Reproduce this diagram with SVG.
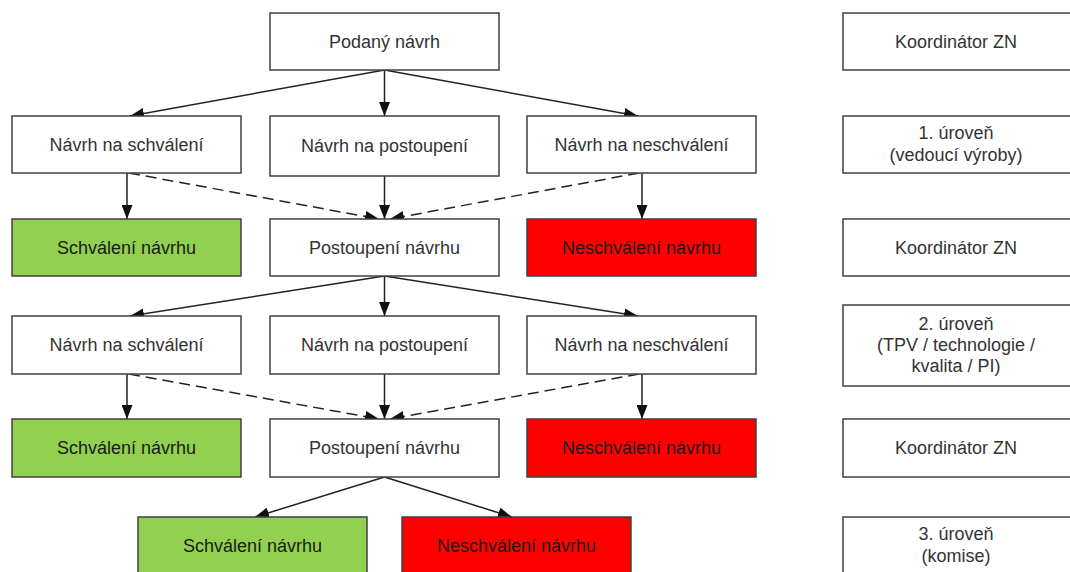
<svg xmlns="http://www.w3.org/2000/svg" width="1070" height="572" viewBox="0 0 1070 572">
<style>
.box{fill:#ffffff;stroke:#404040;stroke-width:1.5}
.ok{fill:#92d050;stroke:#404040;stroke-width:1.5}
.no{fill:#ff0000;stroke:#404040;stroke-width:1.5}
text{font-family:"Liberation Sans",Arial,sans-serif;font-size:18px;fill:#333333;text-anchor:middle}
.dk{fill:#1a1a1a}
.ln{stroke:#222222;stroke-width:1.5;fill:none}
.ds{stroke:#222222;stroke-width:1.5;fill:none;stroke-dasharray:11 6}
</style>
<defs>
<marker id="ah" markerUnits="userSpaceOnUse" markerWidth="14" markerHeight="11" refX="14" refY="5.5" orient="auto">
<path d="M0,0 L14,5.5 L0,11 z" fill="#111111"/>
</marker>
</defs>
<g id="connectors">
<line class="ln" x1="384.5" y1="70" x2="130" y2="116" marker-end="url(#ah)"/>
<line class="ln" x1="384.5" y1="70" x2="384.5" y2="116" marker-end="url(#ah)"/>
<line class="ln" x1="384.5" y1="70" x2="638" y2="116" marker-end="url(#ah)"/>
<line class="ln" x1="127" y1="173" x2="127" y2="219" marker-end="url(#ah)"/>
<line class="ln" x1="384.5" y1="176" x2="384.5" y2="219" marker-end="url(#ah)"/>
<line class="ln" x1="642" y1="173" x2="642" y2="219" marker-end="url(#ah)"/>
<line class="ds" x1="129" y1="173" x2="379" y2="219" marker-end="url(#ah)"/>
<line class="ds" x1="639" y1="173" x2="390" y2="219" marker-end="url(#ah)"/>
<line class="ln" x1="384.5" y1="276" x2="130" y2="316" marker-end="url(#ah)"/>
<line class="ln" x1="384.5" y1="276" x2="384.5" y2="316" marker-end="url(#ah)"/>
<line class="ln" x1="384.5" y1="276" x2="638" y2="316" marker-end="url(#ah)"/>
<line class="ln" x1="127" y1="374" x2="127" y2="419" marker-end="url(#ah)"/>
<line class="ln" x1="384.5" y1="374" x2="384.5" y2="419" marker-end="url(#ah)"/>
<line class="ln" x1="642" y1="374" x2="642" y2="419" marker-end="url(#ah)"/>
<line class="ds" x1="129" y1="374" x2="379" y2="419" marker-end="url(#ah)"/>
<line class="ds" x1="639" y1="374" x2="390" y2="419" marker-end="url(#ah)"/>
<line class="ln" x1="384.5" y1="477" x2="255" y2="517" marker-end="url(#ah)"/>
<line class="ln" x1="384.5" y1="477" x2="512" y2="517" marker-end="url(#ah)"/>
</g>
<g id="n-podany"><rect class="box" x="270" y="13" width="229" height="57"/><text x="384.5" y="47.5">Podaný návrh</text></g>
<g id="n-schval1"><rect class="box" x="12" y="116" width="229" height="57"/><text x="126.5" y="150.5">Návrh na schválení</text></g>
<g id="n-postup1"><rect class="box" x="270" y="116" width="229" height="60"/><text x="384.5" y="152">Návrh na postoupení</text></g>
<g id="n-neschval1"><rect class="box" x="527" y="116" width="229" height="57"/><text x="641.5" y="150.5">Návrh na neschválení</text></g>
<g id="n-ok1"><rect class="ok" x="12" y="219" width="229" height="57"/><text class="dk" x="126.5" y="253.5">Schválení návrhu</text></g>
<g id="n-post1"><rect class="box" x="270" y="219" width="229" height="57"/><text x="384.5" y="253.5">Postoupení návrhu</text></g>
<g id="n-no1"><rect class="no" x="527" y="219" width="229" height="57"/><text class="dk" x="641.5" y="253.5">Neschválení návrhu</text></g>
<g id="n-schval2"><rect class="box" x="12" y="316" width="229" height="58"/><text x="126.5" y="351">Návrh na schválení</text></g>
<g id="n-postup2"><rect class="box" x="270" y="316" width="229" height="58"/><text x="384.5" y="351">Návrh na postoupení</text></g>
<g id="n-neschval2"><rect class="box" x="527" y="316" width="229" height="58"/><text x="641.5" y="351">Návrh na neschválení</text></g>
<g id="n-ok2"><rect class="ok" x="12" y="419" width="229" height="58"/><text class="dk" x="126.5" y="454">Schválení návrhu</text></g>
<g id="n-post2"><rect class="box" x="270" y="419" width="229" height="58"/><text x="384.5" y="454">Postoupení návrhu</text></g>
<g id="n-no2"><rect class="no" x="527" y="419" width="229" height="58"/><text class="dk" x="641.5" y="454">Neschválení návrhu</text></g>
<g id="n-ok3"><rect class="ok" x="138" y="517" width="229" height="57"/><text class="dk" x="252.5" y="551.5">Schválení návrhu</text></g>
<g id="n-no3"><rect class="no" x="402" y="517" width="229" height="57"/><text class="dk" x="516.5" y="551.5">Neschválení návrhu</text></g>
<g id="r-koord1"><rect class="box" x="843" y="13" width="229" height="57"/><text x="956" y="47.5">Koordinátor ZN</text></g>
<g id="r-lvl1"><rect class="box" x="843" y="116" width="229" height="57"/><text x="956" y="139">1. úroveň</text><text x="956" y="161">(vedoucí výroby)</text></g>
<g id="r-koord2"><rect class="box" x="843" y="219" width="229" height="57"/><text x="956" y="253.5">Koordinátor ZN</text></g>
<g id="r-lvl2"><rect class="box" x="843" y="305" width="229" height="81"/><text x="956" y="330">2. úroveň</text><text x="956" y="351">(TPV / technologie /</text><text x="956" y="372">kvalita / PI)</text></g>
<g id="r-koord3"><rect class="box" x="843" y="419" width="229" height="58"/><text x="956" y="454">Koordinátor ZN</text></g>
<g id="r-lvl3"><rect class="box" x="843" y="517" width="229" height="57"/><text x="956" y="540">3. úroveň</text><text x="956" y="562">(komise)</text></g>
</svg>
